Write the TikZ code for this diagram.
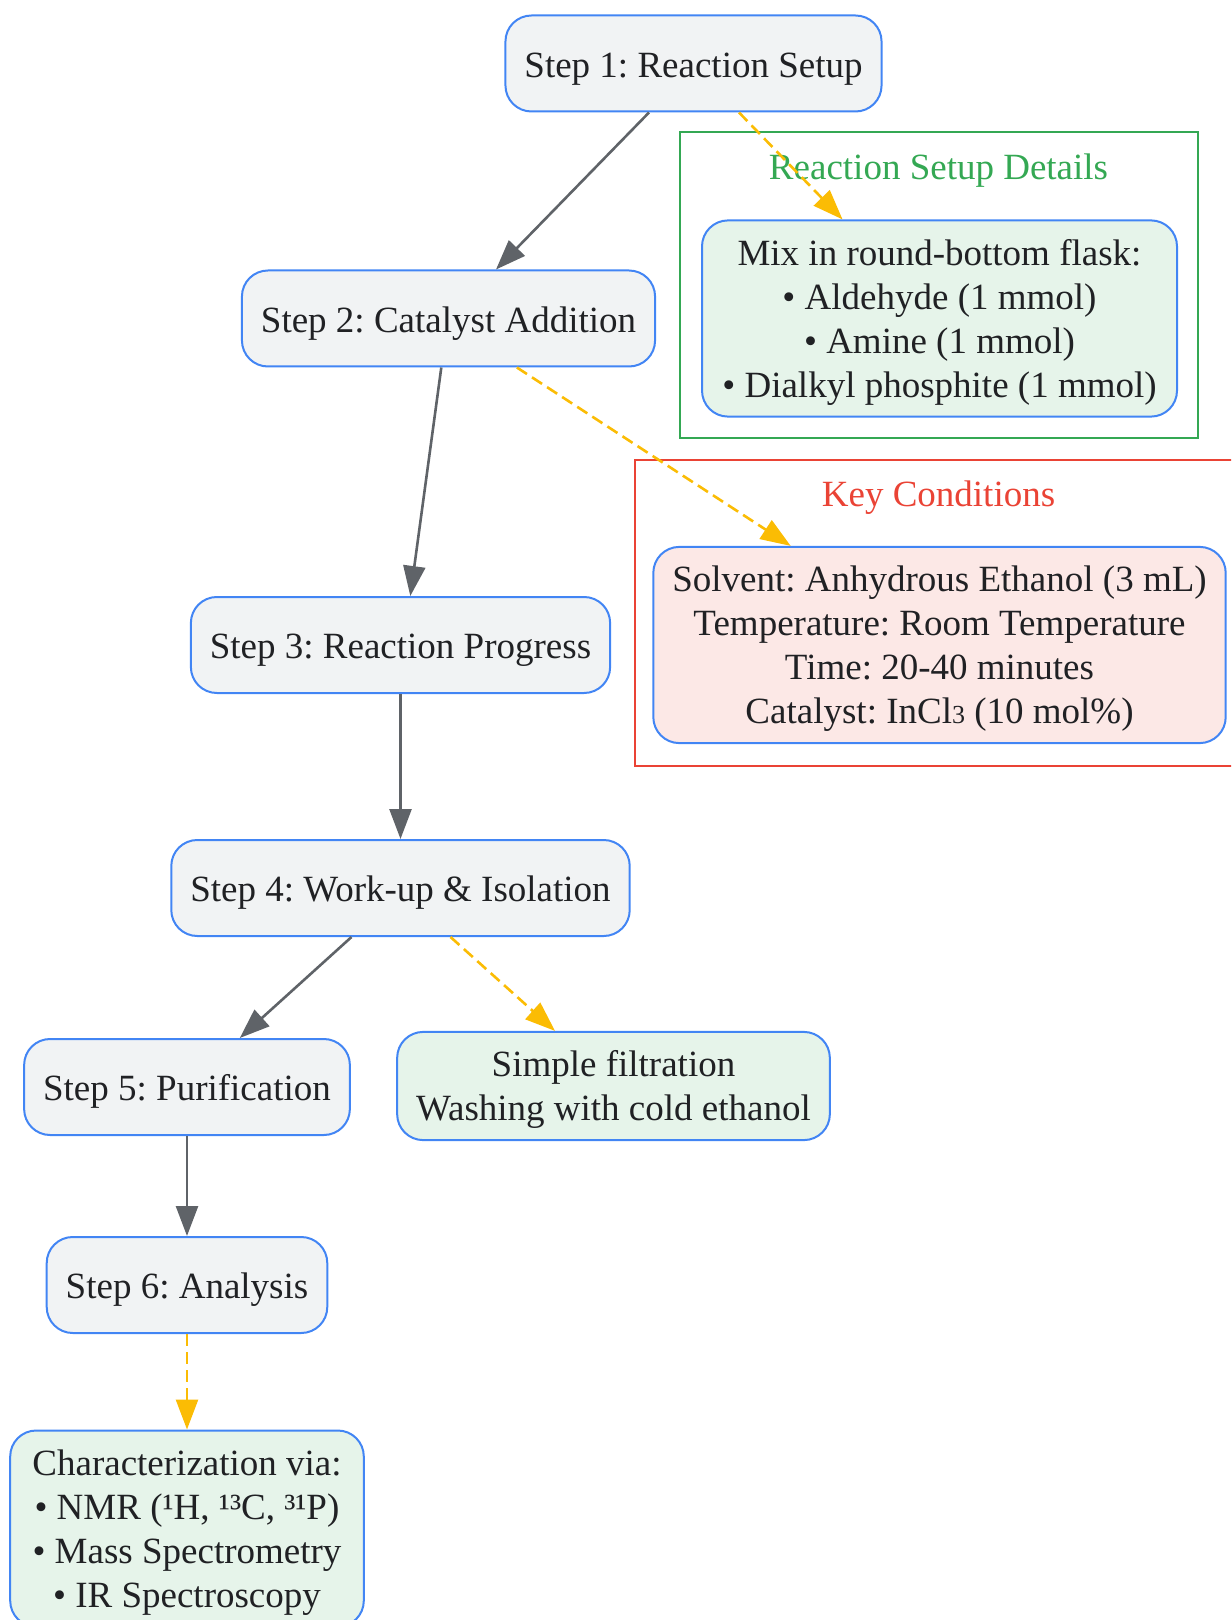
\documentclass[tikz,border=0pt]{standalone}
\usepackage{fontspec}
\setmainfont{Liberation Serif}
\usetikzlibrary{arrows.meta,positioning,fit}

\definecolor{stepfill}{HTML}{F1F3F4}
\definecolor{stepline}{HTML}{4285F4}
\definecolor{greenfill}{HTML}{E6F4EA}
\definecolor{redfill}{HTML}{FCE8E6}
\definecolor{greenline}{HTML}{34A853}
\definecolor{redline}{HTML}{EA4335}
\definecolor{flowgray}{HTML}{5F6368}
\definecolor{noteyellow}{HTML}{FBBC04}
\definecolor{inktext}{HTML}{202124}

\newcommand{\tallstrut}{\rule{0pt}{16.6pt}}
\frenchspacing

\tikzset{
  boxbase/.style={draw=stepline, line width=1pt, rounded corners=13pt, text=inktext,
    align=center, font=\fontsize{18.5}{22}\selectfont, inner xsep=9.5pt},
  stepbox/.style={boxbase, fill=stepfill, minimum height=48pt,
    text height=17.7pt, text depth=4pt},
  greennote/.style={boxbase, fill=greenfill, inner ysep=5.75pt},
  rednote/.style={boxbase, fill=redfill, inner ysep=5.75pt},
  group/.style={draw=#1, line width=1pt, inner sep=0pt},
  grouptitle/.style={text=#1, font=\fontsize{18.5}{22}\selectfont},
  flow/.style={draw=flowgray, line width=1.3pt, -{Triangle[length=15pt,width=11pt]}},
  aside/.style={draw=noteyellow, line width=1.3pt, dash pattern=on 6pt off 3pt,
    -{Triangle[length=15pt,width=11pt]}},
}

\begin{document}
\begin{tikzpicture}[x=0.5pt,y=-0.5pt]
  \clip (0,0) rectangle (1231,1620);

  % clusters
  \node[group=greenline, fit={(680,132) (1198,438)}] (setupgroup) {};
  \node[grouptitle=greenline] (setuptitle) at (938.5,171) {Reaction Setup Details};
  \node[group=redline, fit={(635,460) (1246,766)}] (condgroup) {};
  \node[grouptitle=redline] (condtitle) at (938.5,498) {Key Conditions};

  % main steps
  \node[stepbox] (setup)    at (693.5,63.5) {Step 1: Reaction Setup};
  \node[stepbox] (catalyst) at (448.5,318.5) {Step 2: Catalyst Addition};
  \node[stepbox] (progress) at (400.5,645) {Step 3: Reaction Progress};
  \node[stepbox] (workup)   at (400.5,888) {Step 4: Work-up \& Isolation};
  \node[stepbox] (purify)   at (187,1087) {Step 5: Purification};
  \node[stepbox] (analysis) at (187,1285) {Step 6: Analysis};

  % details
  \node[greennote, minimum width=237.5pt] (mix) at (939.5,318.5)
    {\tallstrut Mix in round-bottom flask:\\• Aldehyde (1 mmol)\\• Amine (1 mmol)\\• Dialkyl phosphite (1 mmol)};
  \node[rednote] (conditions) at (939.5,645)
    {\tallstrut Solvent: Anhydrous Ethanol (3 mL)\\Temperature: Room Temperature\\Time: 20-40 minutes\\Catalyst: InCl{\fontsize{13}{13}\selectfont 3} (10 mol\%)};
  \node[greennote] (filtration) at (613.5,1086)
    {\tallstrut Simple filtration\\Washing with cold ethanol};
  \node[greennote, minimum width=176.8pt, anchor=north] (characterize) at (187,1429.5)
    {\tallstrut Characterization via:\\• NMR (¹H, ¹³C, ³¹P)\\• Mass Spectrometry\\• IR Spectroscopy};

  % main flow
  \draw[flow] ([xshift=-22.25pt]setup.south) -- ([xshift=23.75pt]catalyst.north);
  \draw[flow] ([xshift=-3.6pt]catalyst.south) -- ([xshift=4.9pt]progress.north);
  \draw[flow] (progress) -- (workup);
  \draw[flow] ([xshift=-24.5pt]workup.south) -- ([xshift=26.4pt]purify.north);
  \draw[flow] (purify) -- (analysis);

  % side notes
  \draw[aside] ([xshift=22.75pt]setup.south) -- ([xshift=-48.5pt]mix.north);
  \draw[aside] ([xshift=34.2pt]catalyst.south) -- ([xshift=-74.4pt]conditions.north);
  \draw[aside] ([xshift=25pt]workup.south) -- ([xshift=-29.25pt]filtration.north);
  \draw[aside] (analysis) -- (characterize);
\end{tikzpicture}
\end{document}
